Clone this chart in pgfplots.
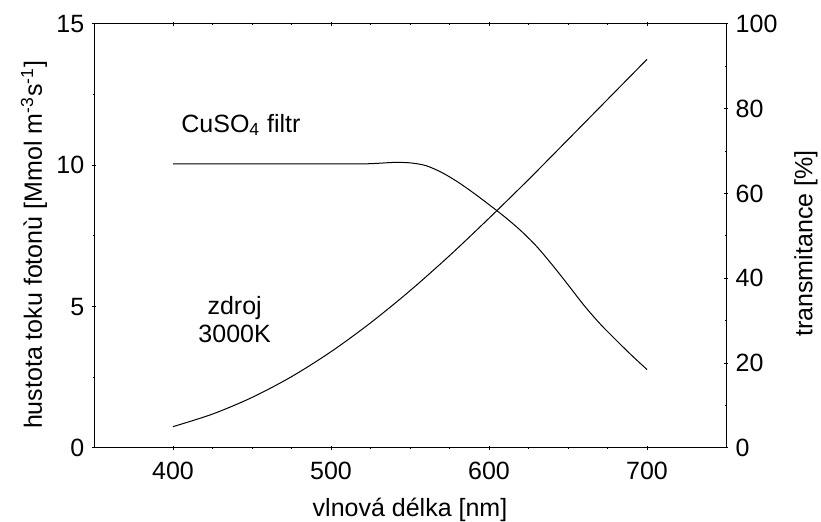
\documentclass[border=0pt]{standalone}
\usepackage{fontspec}
\setmainfont{Liberation Sans}
\usepackage{pgfplots}
\pgfplotsset{compat=1.18}
\usetikzlibrary{calc}

\pgfplotsset{
  every axis/.append style={
    width=316pt, height=212pt, scale only axis,
    xmin=350, xmax=750,
    tick align=center,
    major tick length=2pt, minor tick length=1.2pt,
    axis line style={line width=0.5pt},
    every tick/.style={line width=0.5pt, black},
    /pgf/number format/assume math mode=true,
    tick label style={font=\fontsize{12.5}{14}\selectfont},
    label style={font=\fontsize{12.5}{14}\selectfont},
  },
}

\begin{document}
\fontsize{12.5}{14}\selectfont
\begin{tikzpicture}
% zdroj 3000K (left axis)
\begin{axis}[
  ymin=0, ymax=15,
  xtick={400,500,600,700}, minor x tick num=3,
  ytick={0,5,10,15}, minor y tick num=1,
  xtick pos=both, ytick pos=left,
  xticklabel style={yshift=-1.5pt},
  yticklabel style={xshift=0.5pt},
  xlabel={vlnová délka [nm]},
  xlabel style={at={(axis description cs:0.5,0)}, anchor=center, yshift=-31pt},
  ylabel={hustota toku fotonù [Mmol m\textsuperscript{-3}s\textsuperscript{-1}]},
  ylabel style={at={(axis description cs:0,0.5)}, anchor=center, yshift=30pt, xshift=-4.5pt},
]
\addplot[black, line width=0.5pt, smooth] coordinates {
  (400,0.756) (425,1.200) (450,1.788) (475,2.523) (500,3.406)
  (525,4.426) (550,5.564) (575,6.804) (600,8.128) (625,9.496)
  (650,10.910) (675,12.33) (700,13.75)
};
\node[anchor=center, font=\fontsize{12.5}{14}\selectfont] at (axis cs:443,11.43) {CuSO\textsubscript{4} filtr};
\node[anchor=center, align=center, font=\fontsize{12.5}{14}\selectfont] at (axis cs:439,4.53) {zdroj\\3000K};
\end{axis}
% CuSO4 filtr (right axis)
\begin{axis}[
  ymin=0, ymax=100,
  axis x line=none,
  axis y line*=right,
  ytick={0,20,...,100}, minor y tick num=1,
  ytick pos=right,
  yticklabel style={xshift=-0.5pt},
  ylabel={transmitance [\%]},
  ylabel style={at={(axis description cs:1,0.5)}, anchor=center, rotate=0, yshift=-40pt, xshift=-3.75pt},
]
\addplot[black, line width=0.5pt, smooth] coordinates {
  (400,67.0) (450,67.0) (500,67.0) (520,67.0) (530,67.15) (540,67.35)
  (550,67.25) (560,66.6) (570,65.0) (580,62.8) (590,60.2) (600,57.4)
  (610,54.5) (620,51.3) (630,47.6) (640,43.2) (650,38.5) (660,33.7)
  (670,29.4) (680,25.6) (690,21.95) (700,18.5)
};
\end{axis}
\pgfresetboundingbox
\path[use as bounding box] ($(current axis.south west)+(-47pt,-37pt)$) rectangle ($(current axis.north east)+(47.5pt,12pt)$);
\end{tikzpicture}
\end{document}
